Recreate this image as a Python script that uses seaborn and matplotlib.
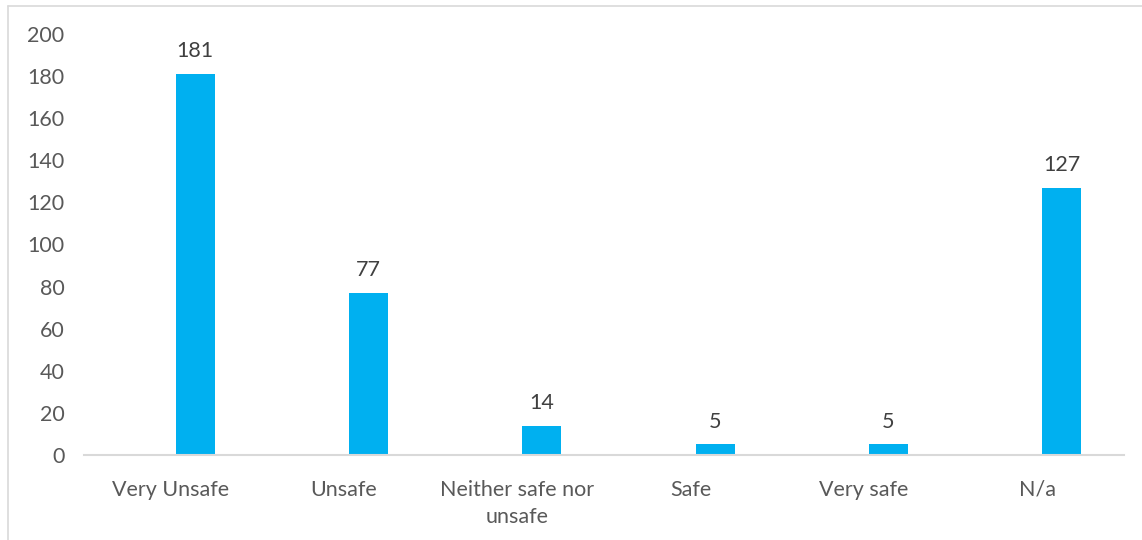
import matplotlib
matplotlib.use("Agg")
import matplotlib.pyplot as plt
from matplotlib.lines import Line2D
import seaborn as sns
import pandas as pd

categories = ["Very Unsafe", "Unsafe", "Neither safe nor\nunsafe", "Safe", "Very safe", "N/a"]
counts = [181, 77, 14, 5, 5, 127]
blank = [0, 0, 0, 0, 0, 0]
y_ticks = [0, 20, 40, 60, 80, 100, 120, 140, 160, 180, 200]

df = pd.DataFrame({
    "category": categories * 2,
    "value": blank + counts,
    "series": ["blank"] * len(categories) + ["count"] * len(categories),
})

sns.set_style("white")
plt.rcParams["font.family"] = ["Lato", "DejaVu Sans"]

fig = plt.figure(figsize=(11.42, 5.40), dpi=100)
ax = fig.add_axes([84 / 1142, 1 - 455 / 540, (1124 - 84) / 1142, (455 - 34) / 540])

sns.barplot(data=df, x="category", y="value", hue="series", hue_order=["blank", "count"],
            order=categories, palette={"blank": "#00B0F0", "count": "#00B0F0"},
            saturation=1, width=0.564, gap=0.2, linewidth=0, legend=False, ax=ax)

cont = ax.containers[1]
ax.bar_label(cont, labels=[str(v) for v in counts], padding=9, fontsize=15.5, color="#404040")

ax.set_ylim(0, 200)
ax.set_xlim(-0.5, len(categories) - 0.5)
ax.set_yticks(y_ticks)
ax.set_xlabel("")
ax.set_ylabel("")
ax.tick_params(axis="both", length=0, labelsize=15.5, labelcolor="#595959")
ax.tick_params(axis="x", pad=18)
ax.tick_params(axis="y", pad=14)
for lbl in ax.get_xticklabels():
    lbl.set_multialignment("center")
    lbl.set_linespacing(1.45)

for s in ["top", "right", "left"]:
    ax.spines[s].set_visible(False)
ax.spines["bottom"].set_color("#D9D9D9")
ax.spines["bottom"].set_linewidth(1.5)
ax.grid(False)

fig.add_artist(Line2D([8 / 1142, 1.0], [1 - 6 / 540, 1 - 6 / 540], color="#D9D9D9", lw=1.2))
fig.add_artist(Line2D([8 / 1142, 8 / 1142], [0.0, 1 - 6 / 540], color="#D9D9D9", lw=1.2))

fig.savefig("out.png", dpi=100)
